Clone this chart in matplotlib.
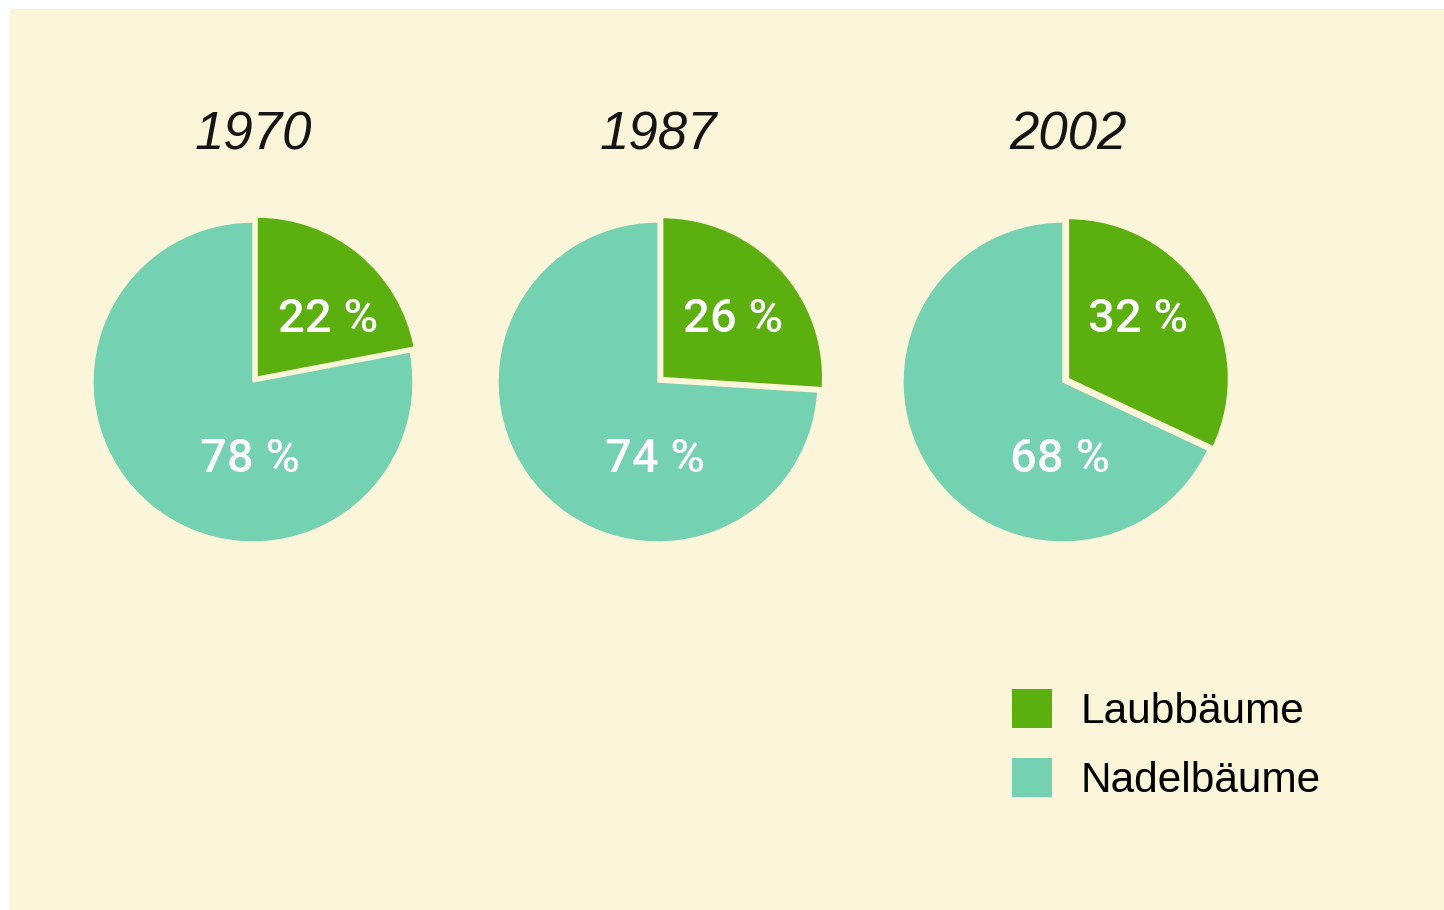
import matplotlib.pyplot as plt
from matplotlib.patches import Patch, Rectangle

# data
years = ["1970", "1987", "2002"]
laub = [22, 26, 32]      # Laubbäume (deciduous), %
nadel = [78, 74, 68]     # Nadelbäume (conifers), %
legend_labels = ["Laubbäume", "Nadelbäume"]

GREEN = "#5bb00f"
TEAL = "#74d1b2"
CREAM = "#fbf5d9"

W, H = 1444, 910
fig = plt.figure(figsize=(W / 100, H / 100), dpi=100)
fig.patch.set_facecolor("white")
fig.patches.append(Rectangle((10 / W, 0), 1 - 10 / W, 1 - 9 / H,
                             transform=fig.transFigure, facecolor=CREAM,
                             edgecolor="none", zorder=-5))

centers = [(253, 382), (658, 382), (1063, 382)]   # pixel centres, radius 160
size = 400

for i, (cx, cy) in enumerate(centers):
    ax = fig.add_axes([(cx - size / 2) / W, (H - cy - size / 2) / H, size / W, size / H])
    ax.pie([laub[i], nadel[i]], colors=[GREEN, TEAL], startangle=90,
           counterclock=False, explode=[0.04, 0],
           wedgeprops=dict(edgecolor=CREAM, linewidth=1.0))
    ax.set_xlim(-1.25, 1.25)
    ax.set_ylim(-1.25, 1.25)
    ax.axis("off")
    ax.text(0.47, 0.31, f"{laub[i]} %", color="white", fontsize=34,
            fontfamily="Roboto", fontweight="medium", ha="center", va="baseline")
    ax.text(-0.02, -0.565, f"{nadel[i]} %", color="white", fontsize=34,
            fontfamily="Roboto", fontweight="medium", ha="center", va="baseline")
    ax.text(0.0 if i < 2 else 0.03, 1.45, years[i], color="#151515", fontsize=38,
            fontfamily="Liberation Sans", fontstyle="italic",
            ha="center", va="baseline", clip_on=False)

handles = [Patch(facecolor=GREEN, edgecolor="none"),
           Patch(facecolor=TEAL, edgecolor="none")]
fig.legend(handles, legend_labels, loc="upper left",
           bbox_to_anchor=(1012 / W, 1 - 689 / H), frameon=False,
           prop={"family": "Liberation Sans", "size": 30.5},
           handlelength=0.95, handleheight=1.05, handletextpad=0.66,
           labelspacing=0.6, borderpad=0, borderaxespad=0)

fig.savefig("out.png", dpi=100, facecolor=fig.get_facecolor())
